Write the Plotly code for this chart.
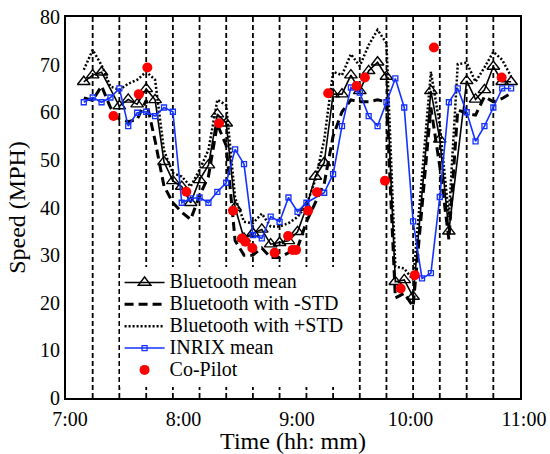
import plotly.graph_objects as go

# ---- data (minutes after 7:00) ----
BT_T = [9.4, 14.1, 18.8, 23.5, 28.2, 32.9, 37.6, 42.4, 47.1, 51.8, 56.5, 61.2, 65.9, 70.6, 75.3,
        80.0, 84.7, 89.4, 94.1, 98.8, 103.5, 108.2, 112.9, 117.6, 122.4, 127.1, 131.8, 136.5,
        141.2, 145.9, 150.6, 155.3, 160.0, 164.7, 169.4, 174.1, 178.8, 183.5, 192.9, 197.6,
        202.4, 207.1, 211.8, 216.5, 221.2, 225.9, 230.6, 235.3]
BT_MEAN = [66.4, 67.8, 68.4, None, 61.3, 62.7, 61.7, 64.9, 62.6, 49.6, 45.6, 44.4, 41.0, 45.8, 48.9,
           59.6, 57.7, 40.0, 33.5, 34.6, 35.4, 32.3, 32.6, 33.0, 34.9, 40.0, 46.5, 49.4,
           63.8, 63.8, 67.8, 64.5, 68.7, 70.5, 67.5, 24.4, 24.8, 21.3, 64.5, 54.3,
           35.0, None, 66.6, 62.7, 64.7, 69.6, 66.4, 66.4]
BT_MINUS = [63.0, 62.5, 65.5, 61.0, 58.5, 58.0, 58.5, 62.5, 54.0, 44.5, 41.0, 39.0, 37.5, 42.5, 46.5,
            57.5, 53.0, 33.0, 30.0, 30.0, 31.5, 29.5, 29.5, 30.5, 31.5, 37.0, 41.0, 45.0,
            55.0, 60.1, 62.6, 62.2, 62.2, 62.6, 62.2, 21.0, 22.0, 19.2, 61.0, 48.6,
            33.3, 60.5, 59.8, 59.4, 63.3, 62.2, 62.9, 64.0]
BT_PLUS = [68.9, 73.1, 69.9, 65.4, 64.7, 66.0, 66.8, 68.5, 66.8, 52.0, 47.2, 46.5, 44.4, 47.9, 52.1,
           62.6, 61.5, 42.0, 37.0, 36.7, 38.7, 36.0, 36.0, 36.7, 38.0, 40.5, 45.8, 54.2,
           68.5, 67.8, 72.2, 69.7, 74.1, 77.3, 74.5, 27.6, 27.2, 24.8, 68.5, 57.3,
           38.0, 70.1, 70.4, 66.4, 69.4, 72.7, 71.0, 67.5]

INRIX_T = [9.4, 14.1, 18.8, 23.5, 28.2, 32.9, 37.6, 42.4, 47.1, 51.8, 56.5, 61.2, 65.9, 70.6, 75.3,
           80.0, 84.7, 89.4, 94.1, 98.8, 103.5, 108.2, 112.9, 117.6, 122.4, 127.1, 136.5,
           141.2, 145.9, 150.6, 155.3, 160.0, 164.7, 169.4, 174.1, 178.8, 183.5, 188.2, 192.9,
           197.6, 202.4, 207.1, 211.8, 216.5, 221.2, 225.9, 230.6, 235.3]
INRIX_MEAN = [62.1, 63.1, 62.1, 63.1, 65.0, 57.1, 59.9, 60.1, 59.2, 61.0, 60.1, 41.0, 41.9, 42.1, 41.0,
              43.3, 45.2, 52.2, 49.1, 34.2, 33.5, 38.1, 37.0, 42.1, 39.1, 41.0, 43.1,
              47.0, 57.1, 65.2, 64.1, 59.2, 57.1, 62.1, 67.1, 61.0, 37.1, 25.1, 26.2,
              42.2, 62.1, 65.0, 60.0, 53.9, 57.1, 61.0, 65.0, 65.0]

CP_T = [25.1, 38.5, 43.0, 63.6, 80.9, 88.3, 93.0, 94.8, 98.5, 110.3, 117.4, 119.8, 121.6,
        128.0, 132.7, 138.6, 153.6, 158.0, 168.6, 176.9, 184.4, 194.5, 230.3]
CP_V = [59.2, 63.8, 69.4, 43.3, 57.7, 39.3, 33.5, 32.8, 31.5, 30.5, 34.0, 31.1, 31.1,
        39.3, 43.2, 64.0, 65.5, 67.3, 45.6, 23.0, 25.8, 73.6, 67.3]

VLINE_T = [14.1, 28.2, 42.4, 56.5, 70.6, 84.7, 98.8, 112.9, 127.1, 141.2, 155.3, 169.4,
           183.5, 197.6, 211.8, 225.9]

TICK_VALS = [0, 60, 120, 180, 240]
TICK_TEXT = ["7:00", "8:00", "9:00", "10:00", "11:00"]

FONT = "Liberation Serif, Times New Roman, serif"


def lab(s):
    return '<span style="font-size:20px">' + s + '</span>'


fig = go.Figure()

fig.add_trace(go.Scatter(
    x=BT_T, y=BT_MEAN, name=lab("Bluetooth mean"), mode="lines+markers", connectgaps=True,
    line=dict(color="black", width=1.6),
    marker=dict(symbol="triangle-up-open", size=11, color="black", line=dict(width=1.4))))
fig.add_trace(go.Scatter(
    x=BT_T, y=BT_MINUS, name=lab("Bluetooth with -STD"), mode="lines",
    line=dict(color="black", width=3, dash="9px,5px")))
fig.add_trace(go.Scatter(
    x=BT_T, y=BT_PLUS, name=lab("Bluetooth with +STD"), mode="lines",
    line=dict(color="black", width=2.5, dash="2px,2px")))
fig.add_trace(go.Scatter(
    x=INRIX_T, y=INRIX_MEAN, name=lab("INRIX mean"), mode="lines+markers",
    line=dict(color="rgb(20,50,255)", width=1.6),
    marker=dict(symbol="square-open", size=5, color="rgb(20,50,255)", line=dict(width=1.3))))
fig.add_trace(go.Scatter(
    x=CP_T, y=CP_V, name=lab("Co-Pilot"), mode="markers",
    marker=dict(symbol="circle", size=10, color="rgb(255,0,0)")))

for t in VLINE_T:
    fig.add_shape(type="line", x0=t, x1=t, y0=0, y1=1, xref="x", yref="paper",
                  line=dict(color="black", width=1.8, dash="5px,3px"), layer="below")

fig.update_layout(
    width=550, height=454,
    margin=dict(l=66, r=30, t=17, b=56, autoexpand=False),
    paper_bgcolor="white", plot_bgcolor="white",
    font=dict(family=FONT, size=20, color="black"),
    showlegend=True,
    legend=dict(x=0.118, y=0.345, xanchor="left", yanchor="top",
                bgcolor="white", borderwidth=0, font=dict(size=14.5, family=FONT),
                itemwidth=40, tracegroupgap=0),
)
fig.update_xaxes(range=[0, 240], tickvals=TICK_VALS, ticktext=TICK_TEXT,
                 showline=True, linecolor="black", linewidth=2, mirror=True,
                 showgrid=False, zeroline=False, ticks="", automargin=False,
                 ticklabelshift=4, ticklabelstandoff=2,
                 title=dict(text="Time (hh: mm)", standoff=2))
fig.update_yaxes(range=[0, 80], tickvals=[0, 10, 20, 30, 40, 50, 60, 70, 80],
                 showline=True, linecolor="black", linewidth=2, mirror=True,
                 showgrid=False, zeroline=False, ticks="", automargin=False,
                 title=dict(text="Speed (MPH)", standoff=8))

fig.write_html("out.html", config={"displayModeBar": False},
               post_script="document.body.style.margin='0';document.body.style.overflow='hidden';")
